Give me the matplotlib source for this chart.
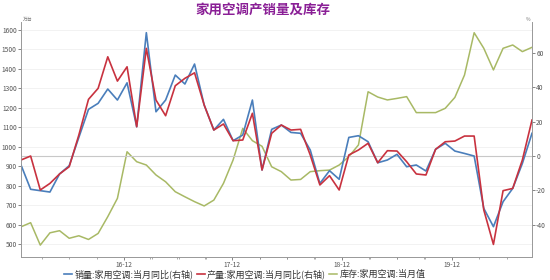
import numpy as np
import matplotlib
matplotlib.use("Agg")
import matplotlib.pyplot as plt

plt.rcParams['font.family'] = ['Noto Sans CJK SC', 'DejaVu Sans']
plt.rcParams['axes.unicode_minus'] = False

# 库存 (left axis, 万台)
stock = [590, 611, 496, 559, 570, 531, 544, 525, 556, 642, 736, 975, 924, 907,
         856, 821, 770, 744, 719, 697, 727, 813, 933, 1095, 1032, 1003,
         898, 873, 830, 833, 873, 878, 881, 907, 950, 1010, 1283, 1256,
         1241, 1249, 1258, 1176, 1176, 1176, 1198, 1254, 1369, 1586, 1506,
         1395, 1506, 1523, 1489, 1511]
# 销量同比 (right axis, %)
sales_yoy = [-5.2, -19.3, -20.1, -20.9, -10.4, -5.6, 10.8, 27.1, 30.6, 38.9,
             32.5, 42.5, 17.0, 71.6, 25.7, 32.5, 47.0, 41.8, 53.4, 29.6, 15.1,
             21.3, 8.9, 12.2, 32.5, -8.1, 15.5, 18.0, 13.7, 13.2, 3.5, -15.9,
             -8.5, -13.5, 10.8, 11.8, 8.3, -3.9, -2.3, 1.0, -6.2, -5.2, -8.7,
             3.9, 7.4, 2.9, 1.5, 0.0, -30.4, -41.0, -26.5, -18.8, -4.3, 13.2]
# 产量同比 (right axis, %)
prod_yoy = [-2.3, 0.0, -19.7, -15.9, -10.4, -6.2, 12.2, 32.9, 39.3, 57.6,
            43.5, 51.8, 17.0, 62.5, 32.5, 23.4, 40.8, 45.1, 48.3, 29.6, 15.1,
            18.6, 8.9, 9.3, 24.8, -8.1, 13.2, 18.0, 15.1, 15.5, 0.6, -16.8,
            -11.4, -19.7, 0.6, 3.5, 7.4, -3.9, 3.1, 2.9, -3.3, -10.4, -11.0,
            3.9, 8.3, 8.7, 11.6, 11.6, -31.3, -51.3, -20.1, -18.8, -2.3, 20.9]

tick_labels = ['16-12', '17-12', '18-12', '19-12']
tick_pos = [10.7, 21.9, 33.3, 44.7]

x = np.arange(len(stock))

fig = plt.figure(figsize=(5.5, 2.8), dpi=100)
ax = fig.add_axes([21/550, 1-257/280, (532-21)/550, (257-22)/280])
ax2 = ax.twinx()

blue = '#4a7ebb'
red = '#c8323f'
green = '#a8b965'

l3, = ax.plot(x, stock, color=green, lw=1.1, label='库存:家用空调:当月值')
l1, = ax2.plot(x, sales_yoy, color=blue, lw=1.2, label='销量:家用空调:当月同比(右轴)')
l2, = ax2.plot(x, prod_yoy, color=red, lw=1.2, label='产量:家用空调:当月同比(右轴)')
ax2.axhline(0, color='#c8c8c8', lw=0.8, zorder=0)

ax.set_xlim(0, 53)
ax.set_ylim(435, 1641)
ax2.set_ylim(-58.6, 77.8)
ax.set_yticks(range(500, 1601, 100))
ax2.set_yticks(range(-40, 61, 20))
ax.yaxis.grid(True, color='#f0f0f0', lw=0.6)
ax.set_axisbelow(True)

ax.set_xticks(tick_pos)
ax.set_xticklabels(tick_labels)
minor = []
for i in range(len(tick_pos)):
    for k in (-3, -2, -1, 1, 2, 3):
        minor.append(tick_pos[i] + k * 11.35 / 4)
ax.set_xticks([m for m in minor if 0 <= m <= 53], minor=True)

for a in (ax, ax2):
    a.tick_params(labelsize=4.8, colors='#555555', length=2, width=0.5, pad=1)
    a.tick_params(which='minor', length=1.5, width=0.5, colors='#888888')
    for s in a.spines.values():
        s.set_color('#999999')
        s.set_linewidth(0.6)
    a.spines['top'].set_visible(False)

ax.text(0.003, 1.0, '万台', transform=ax.transAxes, fontsize=3.5, color='#777777', va='bottom')
ax2.text(0.997, 1.0, '%', transform=ax.transAxes, fontsize=3.5, color='#777777', va='bottom', ha='right')

fig.text(0.478, 0.965, '家用空调产销量及库存', ha='center', va='center',
         fontsize=9.7, fontweight='bold', color='#8a1f96')

fig.legend(handles=[l1, l2, l3], loc='center', bbox_to_anchor=(0.445, 0.02), ncol=3,
           frameon=False, fontsize=6.5, handlelength=0.9, handletextpad=0.2,
           columnspacing=0.4, labelcolor='#333333', borderpad=0.1)

fig.savefig('out.png', dpi=100)
